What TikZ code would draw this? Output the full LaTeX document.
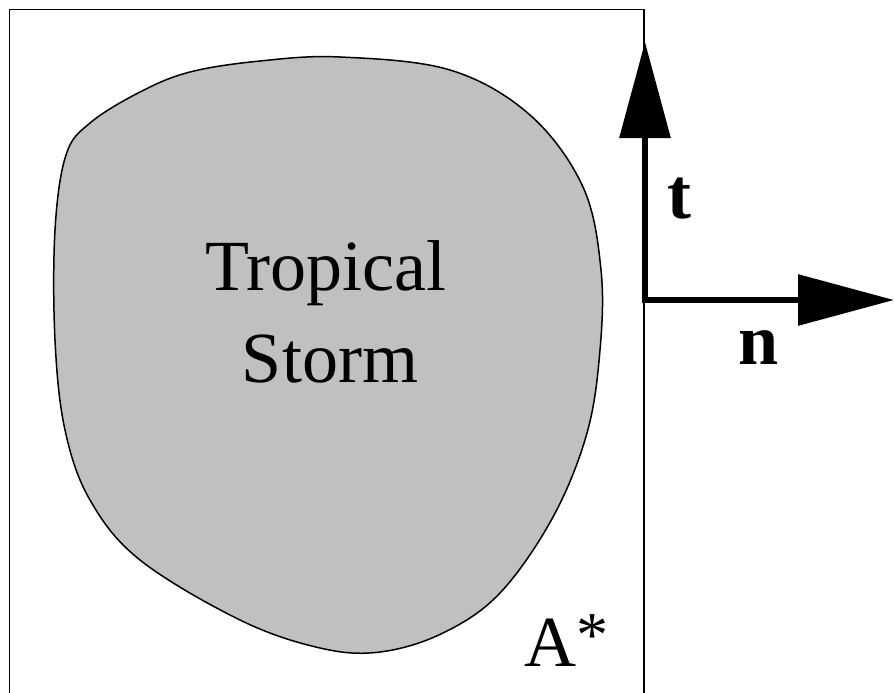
\documentclass[tikz,border=0pt]{standalone}
\usepackage{fontspec}
\setmainfont{Liberation Serif}
\usetikzlibrary{arrows.meta}
\definecolor{stormgray}{RGB}{192,192,192}
\begin{document}
\begin{tikzpicture}[x=1pt,y=-1pt,
  frame/.style={line width=1.5pt,black},
  blob/.style={line width=1.5pt,draw=black,fill=stormgray},
  axis/.style={line width=6pt,-{Triangle[length=96pt,width=50pt]}},
  bigtext/.style={inner sep=0pt,anchor=base,font=\fontsize{72}{86}\selectfont},
  axislabel/.style={inner sep=0pt,anchor=base,font=\fontsize{72}{86}\selectfont\bfseries}]
\useasboundingbox (0,0) rectangle (894,693);
\draw[frame] (9.5,693) -- (9.5,9.5) -- (644,9.5) -- (644,693);
\draw[blob] plot[smooth cycle,tension=0.6] coordinates {
  (340,57) (450,70) (530,115) (583,187) (601,270) (600,350) (587,433)
  (553,517) (500,593) (443,633) (380,652) (320,648) (240,620) (140,560)
  (90,500) (65,430) (55,340) (55,230) (66,155) (90,123) (140,92) (190,72) (260,61)};
\node[bigtext] (trop) at (326,290) {Tropical};
\node[bigtext] (storm) at (330,382) {Storm};
\node[bigtext] (astar) at (566,666) {A\raisebox{10pt}{\fontsize{64}{64}\selectfont*}};
\coordinate (o) at (645,300);
\coordinate (tipT) at (645,42);
\coordinate (tipN) at (894,300);
\draw[axis] ([yshift=3pt]o) -- (tipT);
\draw[axis] ([xshift=-3pt]o) -- (tipN);
\node[axislabel] (tl) at (679,218) {t};
\node[axislabel] (nl) at (759,364) {n};
\end{tikzpicture}
\end{document}
